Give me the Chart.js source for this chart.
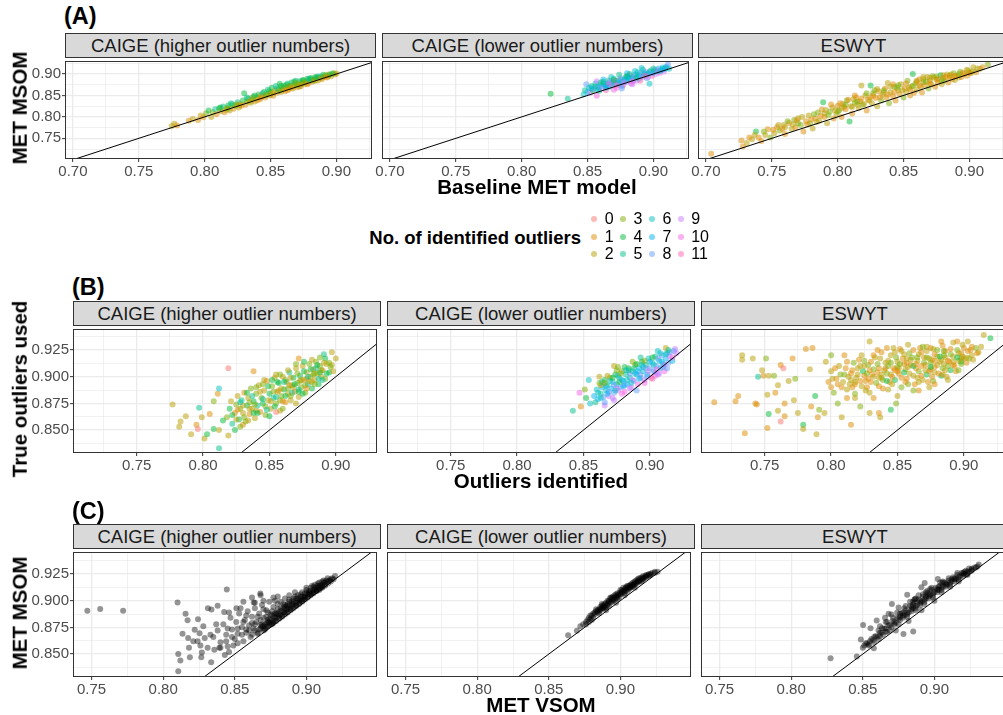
<!DOCTYPE html>
<html>
<head>
<meta charset="utf-8">
<script src="https://cdn.jsdelivr.net/npm/chart.js@4.4.0/dist/chart.umd.min.js"></script>
<style>
  body { margin: 0; width: 1003px; height: 715px; overflow: hidden; background: #fff;
         position: relative; font-family: "Liberation Sans", Arial, sans-serif; }
  canvas { position: absolute; }
  .strip { position: absolute; box-sizing: border-box; background: #d9d9d9; border: 1px solid #333;
           color: #1a1a1a; font-size: 18.5px; text-align: center; white-space: nowrap; }
  .txt { position: absolute; white-space: nowrap; line-height: 1; }
  .bold { font-weight: bold; color: #000; }
  .dot { position: absolute; width: 6px; height: 6px; border-radius: 50%; }
</style>
</head>
<body>
<script>
// ---- data: [x, y, no. of identified outliers] ----
const a1 = [[0.775,0.779,2],[0.777,0.784,2],[0.779,0.780,1],[0.788,0.791,1],[0.791,0.795,2],[0.795,0.793,1],[0.797,0.803,2],[0.799,0.799,1],[0.801,0.808,3],[0.803,0.815,4],[0.805,0.800,2],[0.806,0.811,3],[0.808,0.818,5],[0.809,0.806,1],[0.811,0.820,4],[0.812,0.813,2],[0.814,0.824,5],[0.815,0.811,1],[0.817,0.821,3],[0.818,0.827,4],[0.819,0.815,2],[0.821,0.829,4],[0.822,0.819,1],[0.823,0.826,3],[0.825,0.834,5],[0.826,0.822,2],[0.827,0.830,2],[0.829,0.838,4],[0.830,0.855,4],[0.831,0.828,1],[0.832,0.836,3],[0.833,0.843,4],[0.835,0.833,2],[0.836,0.840,1],[0.837,0.847,5],[0.838,0.836,2],[0.840,0.845,3],[0.841,0.852,4],[0.842,0.841,1],[0.843,0.849,2],[0.845,0.858,4],[0.846,0.845,1],[0.847,0.853,3],[0.848,0.864,5],[0.849,0.850,2],[0.850,0.857,3],[0.851,0.868,4],[0.852,0.849,1],[0.853,0.861,2],[0.854,0.872,5],[0.855,0.856,1],[0.856,0.864,3],[0.857,0.877,4],[0.858,0.858,2],[0.859,0.866,3],[0.860,0.872,4],[0.861,0.860,1],[0.862,0.869,2],[0.863,0.878,5],[0.864,0.865,1],[0.865,0.872,3],[0.866,0.880,4],[0.867,0.866,2],[0.868,0.875,3],[0.869,0.884,4],[0.870,0.869,1],[0.871,0.877,2],[0.872,0.883,5],[0.873,0.872,1],[0.874,0.879,3],[0.875,0.886,4],[0.876,0.876,2],[0.877,0.882,2],[0.878,0.889,4],[0.879,0.879,1],[0.880,0.885,3],[0.881,0.890,5],[0.882,0.882,2],[0.883,0.887,1],[0.885,0.892,4],[0.886,0.885,2],[0.887,0.890,3],[0.888,0.894,5],[0.889,0.888,1],[0.890,0.893,2],[0.892,0.897,3],[0.893,0.892,1],[0.894,0.896,2],[0.895,0.899,5],[0.896,0.895,2],[0.898,0.902,2],[0.899,0.899,1],[0.900,0.901,2],
  [0.812,0.822,4],[0.816,0.816,2],[0.820,0.832,5],[0.824,0.829,3],[0.828,0.826,1],[0.832,0.845,5],[0.834,0.836,2],[0.838,0.850,4],[0.840,0.839,1],[0.844,0.855,5],[0.846,0.850,3],[0.849,0.860,4],[0.852,0.855,2],[0.855,0.866,5],[0.857,0.861,3],[0.860,0.864,2],[0.862,0.875,4],[0.864,0.870,3],[0.866,0.868,1],[0.868,0.882,5],[0.870,0.874,3],[0.872,0.870,2],[0.874,0.885,4],[0.876,0.880,3],[0.878,0.876,1],[0.880,0.890,4],[0.882,0.885,3],[0.884,0.884,2],[0.886,0.894,5],[0.888,0.890,2],[0.890,0.898,4],[0.892,0.893,1],[0.894,0.899,3],[0.897,0.901,4],[0.818,0.819,3],[0.826,0.827,2],[0.836,0.844,3],[0.843,0.845,1],[0.850,0.852,2],[0.858,0.872,4],[0.863,0.862,1],[0.869,0.879,3],[0.873,0.876,2],[0.879,0.887,5],[0.884,0.893,4]];

const a2 = [[0.822,0.854,4],[0.835,0.842,5],[0.847,0.852,6],[0.848,0.862,5],[0.849,0.876,8],[0.850,0.858,7],[0.851,0.868,6],[0.852,0.856,9],[0.853,0.872,5],[0.854,0.862,4],[0.855,0.865,8],[0.856,0.878,6],[0.857,0.849,10],[0.858,0.870,7],[0.859,0.861,5],[0.860,0.875,6],[0.861,0.866,9],[0.862,0.882,4],[0.863,0.871,8],[0.864,0.862,11],[0.865,0.878,7],[0.866,0.885,5],[0.867,0.870,6],[0.868,0.880,9],[0.869,0.874,8],[0.870,0.889,6],[0.871,0.878,7],[0.872,0.868,10],[0.873,0.884,5],[0.874,0.876,8],[0.875,0.890,9],[0.876,0.881,6],[0.877,0.874,11],[0.878,0.888,7],[0.879,0.893,5],[0.880,0.882,8],[0.881,0.887,6],[0.882,0.897,9],[0.883,0.878,10],[0.884,0.891,7],[0.885,0.886,8],[0.886,0.899,6],[0.887,0.884,9],[0.888,0.894,5],[0.889,0.889,7],[0.890,0.902,8],[0.891,0.914,6],[0.892,0.893,10],[0.893,0.898,7],[0.894,0.905,9],[0.895,0.890,8],[0.896,0.901,6],[0.897,0.877,6],[0.898,0.908,5],[0.899,0.896,11],[0.900,0.904,7],[0.901,0.910,8],[0.902,0.900,9],[0.903,0.906,6],[0.904,0.913,7],[0.905,0.903,10],[0.906,0.909,8],[0.907,0.915,6],[0.908,0.906,9],[0.909,0.912,7],[0.910,0.917,8],[0.911,0.922,8],[0.912,0.912,6],[0.868,0.893,6],[0.874,0.898,5],[0.880,0.902,7],[0.886,0.907,6],[0.862,0.887,7],[0.857,0.883,9],[0.870,0.863,10],[0.876,0.866,8],[0.884,0.876,9],[0.890,0.884,11],[0.896,0.893,9],[0.864,0.873,5],[0.880,0.895,4],[0.888,0.904,6],
  [0.853,0.867,7],[0.856,0.871,5],[0.859,0.869,8],[0.862,0.877,6],[0.865,0.872,7],[0.867,0.882,8],[0.869,0.879,6],[0.871,0.884,9],[0.873,0.880,7],[0.875,0.886,6],[0.877,0.883,8],[0.879,0.888,6],[0.881,0.892,7],[0.883,0.889,6],[0.885,0.894,8],[0.887,0.892,5],[0.889,0.897,6],[0.891,0.895,8],[0.893,0.902,6],[0.895,0.899,7],[0.897,0.905,6],[0.899,0.902,8],[0.901,0.906,6],[0.903,0.909,9],[0.905,0.907,6],[0.907,0.911,7],[0.909,0.915,6],[0.866,0.876,10],[0.872,0.874,11],[0.878,0.880,9],[0.884,0.883,10],[0.894,0.896,11],[0.860,0.880,5],[0.870,0.886,4],[0.882,0.900,5],[0.892,0.910,6],[0.900,0.913,5],[0.858,0.864,6],[0.864,0.868,7],[0.876,0.872,8]];

const a3 = [[0.704,0.714,1],[0.727,0.745,1],[0.728,0.731,1],[0.731,0.739,2],[0.735,0.748,2],[0.738,0.766,4],[0.740,0.752,1],[0.742,0.744,1],[0.745,0.758,2],[0.747,0.771,1],[0.749,0.752,3],[0.752,0.762,2],[0.754,0.776,1],[0.756,0.768,3],[0.759,0.781,2],[0.760,0.760,1],[0.763,0.786,1],[0.765,0.772,2],[0.767,0.793,3],[0.768,0.775,1],[0.770,0.797,2],[0.772,0.781,3],[0.774,0.766,1],[0.776,0.790,1],[0.778,0.803,2],[0.779,0.785,3],[0.781,0.773,2],[0.783,0.797,1],[0.785,0.810,3],[0.786,0.791,2],[0.788,0.817,1],[0.789,0.834,4],[0.790,0.800,1],[0.792,0.785,2],[0.794,0.812,3],[0.796,0.822,2],[0.797,0.796,1],[0.799,0.806,2],[0.800,0.826,1],[0.801,0.815,3],[0.803,0.800,1],[0.804,0.830,2],[0.806,0.818,1],[0.807,0.838,3],[0.809,0.789,4],[0.810,0.825,2],[0.811,0.808,1],[0.813,0.833,3],[0.814,0.845,1],[0.816,0.820,2],[0.817,0.836,1],[0.818,0.873,2],[0.819,0.828,3],[0.821,0.850,2],[0.822,0.815,1],[0.823,0.840,1],[0.825,0.873,4],[0.826,0.832,2],[0.827,0.855,3],[0.829,0.844,1],[0.830,0.825,2],[0.831,0.860,1],[0.833,0.838,3],[0.834,0.851,2],[0.836,0.866,1],[0.837,0.845,1],[0.838,0.879,2],[0.839,0.832,3],[0.840,0.857,2],[0.842,0.848,1],[0.843,0.870,3],[0.844,0.838,1],[0.846,0.862,2],[0.847,0.853,1],[0.848,0.876,2],[0.850,0.845,3],[0.851,0.866,1],[0.852,0.858,2],[0.853,0.884,3],[0.855,0.850,1],[0.856,0.871,2],[0.857,0.900,4],[0.858,0.856,1],[0.859,0.878,3],[0.860,0.864,2],[0.862,0.888,1],[0.863,0.870,2],[0.864,0.857,1],[0.865,0.881,3],[0.866,0.874,1],[0.868,0.893,2],[0.869,0.866,3],[0.870,0.884,1],[0.871,0.876,2],[0.872,0.895,3],[0.874,0.870,1],[0.875,0.887,2],[0.876,0.880,1],[0.878,0.897,4],[0.879,0.876,2],[0.880,0.890,1],[0.881,0.884,3],[0.883,0.899,2],[0.884,0.880,1],[0.885,0.892,2],[0.887,0.888,1],[0.888,0.902,3],[0.889,0.886,2],[0.890,0.896,1],[0.892,0.892,2],[0.893,0.905,3],[0.894,0.893,1],[0.896,0.900,2],[0.898,0.896,1],[0.899,0.908,2],[0.900,0.903,1],[0.902,0.906,3],[0.903,0.916,2],[0.905,0.904,1],[0.908,0.912,2],[0.914,0.922,3],[0.805,0.823,1],[0.815,0.828,2],[0.825,0.846,1],[0.835,0.857,2],[0.845,0.868,3],[0.855,0.864,1],[0.865,0.888,2],[0.875,0.894,3],[0.885,0.896,1],[0.812,0.841,2],[0.828,0.862,3],[0.842,0.876,1],[0.860,0.882,1],[0.870,0.891,2],[0.880,0.897,2],[0.800,0.812,3],[0.790,0.808,2],[0.780,0.794,1],[0.770,0.785,3],[0.760,0.776,2],
  [0.733,0.752,1],[0.737,0.758,2],[0.744,0.766,3],[0.751,0.770,1],[0.755,0.781,2],[0.758,0.772,1],[0.762,0.790,3],[0.766,0.782,2],[0.769,0.792,1],[0.773,0.800,2],[0.777,0.782,1],[0.782,0.806,3],[0.784,0.788,2],[0.787,0.802,1],[0.791,0.816,2],[0.793,0.804,3],[0.795,0.829,1],[0.798,0.815,2],[0.802,0.832,1],[0.803,0.820,2],[0.806,0.828,3],[0.808,0.840,1],[0.811,0.823,2],[0.813,0.850,1],[0.815,0.835,3],[0.818,0.842,1],[0.820,0.830,2],[0.822,0.855,3],[0.824,0.838,2],[0.827,0.849,1],[0.830,0.865,2],[0.832,0.846,1],[0.835,0.862,3],[0.838,0.852,1],[0.840,0.870,2],[0.843,0.858,1],[0.846,0.874,3],[0.849,0.862,2],[0.852,0.878,1],[0.854,0.868,2],[0.857,0.872,3],[0.860,0.884,2],[0.862,0.874,1],[0.865,0.893,2],[0.867,0.882,3],[0.870,0.878,1],[0.873,0.892,2],[0.876,0.888,1],[0.879,0.885,3],[0.882,0.893,1],[0.886,0.899,2],[0.889,0.895,1],[0.892,0.900,3],[0.895,0.903,1],[0.898,0.910,2],[0.901,0.902,1],[0.906,0.913,2],[0.910,0.916,1]];

const b1 = [[0.777,0.874,2],[0.783,0.858,2],[0.782,0.853,2],[0.787,0.863,2],[0.791,0.846,2],[0.795,0.855,1],[0.796,0.851,0],[0.797,0.871,5],[0.799,0.862,2],[0.801,0.842,2],[0.803,0.846,4],[0.805,0.865,1],[0.808,0.877,3],[0.808,0.851,4],[0.811,0.884,1],[0.812,0.889,6],[0.812,0.833,5],[0.812,0.850,2],[0.815,0.859,4],[0.819,0.908,0],[0.819,0.845,2],[0.824,0.850,4],[0.830,0.855,1],[0.838,0.905,1],[0.855,0.867,0],[0.872,0.917,1],[0.897,0.911,2],[0.900,0.917,2],[0.891,0.921,5],[0.897,0.923,2],[0.892,0.917,4],[0.818,0.862,3],[0.820,0.870,4],[0.821,0.877,2],[0.822,0.856,5],[0.824,0.866,1],[0.825,0.874,3],[0.826,0.882,2],[0.827,0.860,4],[0.828,0.870,3],[0.829,0.878,5],[0.830,0.866,2],[0.831,0.885,1],[0.832,0.858,3],[0.833,0.873,4],[0.834,0.880,2],[0.835,0.865,1],[0.836,0.889,3],[0.837,0.870,2],[0.838,0.877,4],[0.839,0.861,2],[0.840,0.884,3],[0.841,0.873,5],[0.842,0.892,2],[0.843,0.867,1],[0.844,0.880,3],[0.845,0.875,4],[0.846,0.887,2],[0.847,0.864,3],[0.848,0.896,1],[0.849,0.878,2],[0.850,0.884,4],[0.851,0.870,2],[0.852,0.891,3],[0.853,0.880,5],[0.854,0.899,2],[0.855,0.875,3],[0.856,0.886,1],[0.857,0.894,4],[0.858,0.868,2],[0.859,0.882,3],[0.860,0.900,2],[0.861,0.888,4],[0.862,0.876,1],[0.863,0.895,3],[0.864,0.884,2],[0.865,0.904,5],[0.866,0.878,2],[0.867,0.892,3],[0.868,0.899,4],[0.869,0.886,1],[0.870,0.908,2],[0.871,0.894,3],[0.872,0.881,2],[0.873,0.901,4],[0.874,0.890,3],[0.875,0.910,2],[0.876,0.897,1],[0.877,0.885,3],[0.878,0.904,2],[0.879,0.893,5],[0.880,0.912,3],[0.881,0.900,2],[0.882,0.889,4],[0.883,0.907,1],[0.884,0.897,2],[0.885,0.914,3],[0.886,0.903,2],[0.887,0.893,4],[0.888,0.910,3],[0.889,0.900,2],[0.890,0.906,1],[0.892,0.898,3],[0.893,0.912,2],[0.895,0.904,4],[0.896,0.909,3],[0.898,0.905,2],[0.845,0.893,3],[0.850,0.863,4],[0.855,0.902,2],[0.860,0.870,3],[0.865,0.892,1],[0.870,0.875,2],[0.875,0.884,4],[0.880,0.896,2],[0.885,0.908,5],[0.840,0.868,2],[0.835,0.876,3],[0.830,0.873,2],[0.826,0.869,1],[0.857,0.887,2],[0.862,0.897,3],[0.868,0.890,2],[0.873,0.896,3],[0.878,0.898,2],[0.883,0.902,3],[0.888,0.904,4],
  [0.822,0.864,4],[0.825,0.860,2],[0.828,0.876,5],[0.831,0.862,3],[0.833,0.885,4],[0.835,0.870,2],[0.837,0.882,5],[0.839,0.874,3],[0.841,0.866,4],[0.843,0.886,2],[0.845,0.879,5],[0.847,0.872,3],[0.849,0.891,4],[0.851,0.877,2],[0.853,0.886,3],[0.855,0.881,5],[0.856,0.895,4],[0.858,0.878,3],[0.859,0.889,2],[0.861,0.895,5],[0.862,0.882,4],[0.864,0.889,3],[0.866,0.899,2],[0.867,0.885,5],[0.869,0.893,4],[0.871,0.903,3],[0.872,0.888,5],[0.874,0.897,2],[0.876,0.905,4],[0.877,0.892,3],[0.879,0.900,5],[0.881,0.907,4],[0.882,0.895,2],[0.884,0.903,3],[0.886,0.911,4],[0.887,0.898,5],[0.889,0.906,3],[0.891,0.913,2],[0.893,0.903,4],[0.895,0.913,3],[0.840,0.890,3],[0.846,0.897,2],[0.852,0.897,4],[0.858,0.902,3],[0.864,0.906,2],[0.870,0.912,3],[0.876,0.914,4],[0.882,0.916,2],[0.888,0.918,3],[0.848,0.869,5],[0.854,0.872,4],[0.860,0.877,1],[0.866,0.882,3],[0.872,0.886,4],[0.878,0.889,1],[0.884,0.893,3],[0.890,0.897,5],[0.828,0.853,3],[0.834,0.859,2],[0.838,0.866,4]];

const b2 = [[0.842,0.868,5],[0.848,0.872,1],[0.847,0.885,10],[0.851,0.888,3],[0.855,0.875,6],[0.859,0.876,5],[0.854,0.897,6],[0.862,0.900,2],[0.873,0.910,2],[0.876,0.909,3],[0.912,0.927,2],[0.919,0.926,9],[0.906,0.924,6],[0.904,0.901,10],[0.873,0.878,9],[0.866,0.873,9],[0.858,0.882,7],[0.852,0.880,4],[0.860,0.888,6],[0.861,0.879,7],[0.862,0.894,3],[0.863,0.884,5],[0.864,0.890,7],[0.865,0.881,8],[0.866,0.897,4],[0.867,0.887,6],[0.868,0.892,5],[0.869,0.882,9],[0.870,0.899,3],[0.871,0.889,7],[0.872,0.895,6],[0.873,0.885,8],[0.874,0.902,4],[0.875,0.893,6],[0.876,0.887,9],[0.877,0.899,5],[0.878,0.890,8],[0.879,0.905,3],[0.880,0.896,6],[0.881,0.886,10],[0.882,0.902,5],[0.883,0.893,7],[0.884,0.908,4],[0.885,0.899,6],[0.886,0.890,9],[0.887,0.905,5],[0.888,0.896,8],[0.889,0.911,3],[0.890,0.902,6],[0.891,0.893,10],[0.892,0.908,7],[0.893,0.899,8],[0.894,0.914,4],[0.895,0.905,6],[0.896,0.897,9],[0.897,0.911,5],[0.898,0.902,7],[0.899,0.917,6],[0.900,0.908,8],[0.901,0.899,11],[0.902,0.913,6],[0.903,0.905,7],[0.904,0.919,5],[0.905,0.910,8],[0.906,0.902,9],[0.907,0.915,6],[0.908,0.908,7],[0.909,0.920,8],[0.910,0.912,6],[0.911,0.905,10],[0.912,0.917,7],[0.913,0.922,6],[0.914,0.913,8],[0.915,0.919,9],[0.917,0.915,7],[0.918,0.924,8],[0.920,0.922,9],[0.868,0.901,2],[0.875,0.906,3],[0.881,0.909,4],[0.887,0.914,3],[0.893,0.918,5],[0.866,0.876,8],[0.872,0.880,9],[0.879,0.884,10],[0.885,0.889,9],[0.890,0.887,8],[0.896,0.894,10],[0.902,0.898,11],[0.907,0.903,9],[0.913,0.908,8],[0.863,0.892,2],[0.877,0.895,4],[0.883,0.897,6],[0.889,0.903,7],[0.895,0.909,6],
  [0.861,0.885,6],[0.864,0.895,5],[0.867,0.891,7],[0.870,0.896,6],[0.873,0.892,8],[0.876,0.901,6],[0.879,0.897,7],[0.882,0.906,6],[0.885,0.903,8],[0.888,0.908,5],[0.891,0.905,7],[0.894,0.911,6],[0.897,0.908,8],[0.900,0.914,7],[0.903,0.911,6],[0.906,0.917,8],[0.909,0.914,7],[0.912,0.921,6],[0.915,0.923,8],[0.869,0.886,8],[0.875,0.889,9],[0.881,0.892,8],[0.887,0.897,9],[0.893,0.902,8],[0.899,0.905,9],[0.905,0.907,10],[0.911,0.911,9],[0.917,0.918,10],[0.866,0.894,3],[0.872,0.899,4],[0.878,0.903,3],[0.884,0.906,5],[0.890,0.912,4],[0.896,0.915,3],[0.902,0.918,4],[0.908,0.922,6],[0.914,0.925,5],[0.863,0.880,6],[0.868,0.884,7],[0.874,0.887,6],[0.880,0.891,7],[0.886,0.894,6],[0.892,0.898,7],[0.898,0.900,8],[0.904,0.904,9],[0.910,0.909,8]];

const b3 = [[0.712,0.876,1],[0.728,0.877,1],[0.730,0.882,1],[0.733,0.920,2],[0.733,0.916,2],[0.735,0.847,1],[0.741,0.917,2],[0.743,0.875,1],[0.744,0.874,1],[0.745,0.900,5],[0.748,0.906,2],[0.749,0.901,1],[0.751,0.917,3],[0.752,0.883,2],[0.752,0.852,1],[0.753,0.865,4],[0.753,0.901,2],[0.757,0.901,3],[0.758,0.885,1],[0.760,0.868,2],[0.762,0.911,1],[0.764,0.908,0],[0.760,0.892,2],[0.762,0.858,0],[0.765,0.863,1],[0.765,0.875,1],[0.768,0.896,2],[0.771,0.917,1],[0.773,0.898,3],[0.772,0.878,2],[0.775,0.866,2],[0.779,0.855,4],[0.779,0.851,2],[0.781,0.926,1],[0.786,0.927,1],[0.784,0.907,2],[0.785,0.872,1],[0.789,0.846,2],[0.790,0.862,1],[0.791,0.869,3],[0.788,0.882,4],[0.796,0.914,2],[0.800,0.920,3],[0.795,0.866,2],[0.800,0.890,1],[0.829,0.933,2],[0.835,0.925,1],[0.842,0.927,1],[0.847,0.927,2],[0.852,0.926,1],[0.858,0.930,2],[0.867,0.927,1],[0.872,0.928,2],[0.875,0.927,1],[0.883,0.933,1],[0.892,0.932,2],[0.895,0.933,1],[0.903,0.933,2],[0.915,0.939,2],[0.920,0.936,4],[0.911,0.923,2],[0.904,0.917,3],[0.902,0.913,1],[0.845,0.869,4],[0.837,0.862,2],[0.849,0.875,3],[0.866,0.887,1],[0.874,0.890,2],[0.883,0.901,4],[0.898,0.914,4],[0.815,0.855,1],[0.829,0.866,2],[0.822,0.872,3],[0.836,0.866,1],[0.808,0.862,2],[0.805,0.875,3],[0.812,0.880,1],[0.798,0.895,1],[0.800,0.905,2],[0.802,0.885,3],[0.804,0.898,1],[0.806,0.910,2],[0.808,0.890,1],[0.810,0.902,3],[0.812,0.914,1],[0.814,0.893,2],[0.816,0.906,1],[0.818,0.884,3],[0.819,0.899,2],[0.821,0.916,1],[0.823,0.891,2],[0.824,0.905,4],[0.826,0.896,1],[0.828,0.911,3],[0.829,0.885,2],[0.831,0.902,1],[0.833,0.918,2],[0.834,0.894,3],[0.836,0.908,1],[0.838,0.899,2],[0.839,0.889,1],[0.841,0.913,2],[0.842,0.903,3],[0.844,0.895,1],[0.845,0.920,2],[0.847,0.908,1],[0.848,0.897,4],[0.850,0.914,2],[0.851,0.903,1],[0.853,0.890,3],[0.854,0.917,1],[0.856,0.907,2],[0.857,0.898,1],[0.859,0.922,3],[0.860,0.911,1],[0.862,0.901,2],[0.863,0.893,1],[0.865,0.915,2],[0.866,0.905,3],[0.868,0.923,1],[0.869,0.897,2],[0.871,0.911,1],[0.872,0.902,4],[0.874,0.917,2],[0.875,0.907,1],[0.877,0.896,3],[0.878,0.921,1],[0.880,0.911,2],[0.881,0.903,1],[0.883,0.916,2],[0.884,0.908,3],[0.886,0.924,1],[0.887,0.900,2],[0.889,0.914,1],[0.890,0.906,4],[0.892,0.919,2],[0.893,0.910,1],[0.895,0.925,3],[0.896,0.915,2],[0.898,0.922,1],[0.900,0.917,2],[0.903,0.924,1],[0.906,0.920,2],[0.909,0.927,3],[0.815,0.897,2],[0.825,0.901,1],[0.835,0.912,3],[0.845,0.902,2],[0.855,0.912,1],[0.865,0.899,2],[0.875,0.913,3],[0.885,0.912,2],[0.805,0.893,1],[0.820,0.908,2],[0.830,0.895,1],[0.840,0.906,2],[0.850,0.909,3],[0.860,0.916,2],[0.870,0.918,1],[0.880,0.919,2],[0.890,0.921,3],[0.812,0.888,2],[0.827,0.890,1],[0.843,0.888,2],[0.858,0.893,3],[0.873,0.895,1],[0.888,0.897,2],[0.832,0.920,1],[0.848,0.923,2],[0.862,0.925,1],[0.877,0.926,2],
  [0.801,0.898,2],[0.803,0.908,1],[0.807,0.902,3],[0.809,0.895,2],[0.811,0.908,1],[0.813,0.900,2],[0.817,0.913,3],[0.818,0.893,1],[0.820,0.902,2],[0.822,0.896,1],[0.825,0.910,2],[0.827,0.903,3],[0.830,0.914,1],[0.832,0.900,2],[0.835,0.904,1],[0.837,0.917,2],[0.839,0.897,3],[0.841,0.908,1],[0.843,0.915,2],[0.846,0.900,1],[0.849,0.918,3],[0.851,0.908,2],[0.853,0.899,1],[0.855,0.921,2],[0.857,0.913,1],[0.859,0.903,2],[0.861,0.918,3],[0.864,0.908,1],[0.866,0.921,2],[0.868,0.901,1],[0.870,0.913,3],[0.872,0.924,2],[0.874,0.905,1],[0.876,0.916,2],[0.878,0.909,1],[0.880,0.925,3],[0.882,0.914,2],[0.884,0.902,1],[0.886,0.918,2],[0.888,0.910,3],[0.890,0.926,1],[0.892,0.914,2],[0.894,0.905,1],[0.896,0.922,2],[0.898,0.912,3],[0.900,0.927,1],[0.902,0.918,2],[0.905,0.925,1],[0.907,0.916,2],[0.910,0.922,1],[0.913,0.928,2],[0.816,0.890,1],[0.826,0.887,2],[0.836,0.891,1],[0.846,0.893,2],[0.856,0.895,1],[0.866,0.895,2],[0.876,0.900,1],[0.886,0.906,2],[0.896,0.906,3],[0.823,0.920,2],[0.838,0.923,1],[0.853,0.924,2],[0.869,0.928,3],[0.884,0.929,1],[0.899,0.930,2],[0.810,0.920,1],[0.818,0.880,2],[0.832,0.880,1],[0.850,0.882,2],[0.862,0.887,3],[0.878,0.893,1],[0.842,0.896,4],[0.862,0.910,4],[0.882,0.919,4],[0.872,0.918,3],[0.852,0.912,3],[0.832,0.907,3],
  [0.815,0.903,1],[0.822,0.910,2],[0.829,0.906,1],[0.836,0.899,2],[0.843,0.910,3],[0.850,0.905,1],[0.857,0.917,2],[0.864,0.912,1],[0.871,0.906,2],[0.878,0.915,1],[0.885,0.920,3],[0.892,0.911,1],[0.899,0.919,2],[0.906,0.928,1],[0.818,0.895,2],[0.828,0.898,1],[0.838,0.902,2],[0.848,0.906,1],[0.858,0.909,2],[0.868,0.910,1],[0.878,0.904,2],[0.888,0.915,1],[0.898,0.917,2],[0.845,0.913,3],[0.865,0.918,3],[0.885,0.924,3],[0.825,0.915,3],[0.855,0.904,4],[0.875,0.909,4],[0.895,0.918,4]];

// ---- data: [MET VSOM, MET MSOM] ----
const c1 = [[0.747,0.8905],[0.756,0.8923],[0.772,0.8905],[0.810,0.8984],[0.8105,0.850],[0.812,0.844],[0.8105,0.834],[0.8156,0.8878],[0.817,0.8817],[0.8135,0.869],[0.8174,0.8651],[0.818,0.856],[0.8243,0.8826],[0.822,0.8727],[0.8186,0.847],[0.8266,0.847],[0.827,0.8515],[0.8312,0.8929],[0.8337,0.8917],[0.838,0.8953],[0.8444,0.9105],[0.8335,0.8424],[0.8392,0.856],[0.8426,0.8893],[0.8511,0.8929],[0.862,0.903],[0.8678,0.9068],[0.8632,0.8984],[0.8357,0.854],[0.831,0.856],[0.824,0.862],[0.8254,0.8696],[0.829,0.8651],[0.835,0.866],[0.838,0.872],[0.840,0.861],[0.842,0.878],[0.844,0.868],[0.845,0.857],[0.847,0.884],[0.848,0.873],[0.850,0.864],[0.851,0.880],[0.852,0.869],[0.853,0.888],[0.855,0.875],[0.856,0.862],[0.857,0.882],[0.858,0.870],[0.859,0.890],[0.860,0.877],[0.861,0.866],[0.862,0.885],[0.863,0.874],[0.864,0.893],[0.865,0.880],[0.866,0.870],[0.867,0.888],[0.868,0.877],[0.869,0.896],[0.870,0.884],[0.871,0.874],[0.872,0.891],[0.873,0.880],[0.874,0.899],[0.875,0.887],[0.876,0.878],[0.877,0.894],[0.866,0.869],[0.868,0.874],[0.870,0.872],[0.871,0.878],[0.872,0.875],[0.874,0.877],[0.875,0.882],[0.876,0.879],[0.877,0.885],[0.878,0.881],[0.879,0.884],[0.880,0.888],[0.881,0.884],[0.882,0.890],[0.883,0.886],[0.884,0.889],[0.885,0.893],[0.886,0.889],[0.887,0.892],[0.888,0.896],[0.889,0.892],[0.890,0.895],[0.891,0.899],[0.892,0.895],[0.893,0.898],[0.894,0.902],[0.895,0.898],[0.896,0.901],[0.897,0.904],[0.898,0.901],[0.899,0.904],[0.900,0.907],[0.901,0.904],[0.902,0.906],[0.903,0.909],[0.904,0.907],[0.905,0.910],[0.906,0.912],[0.907,0.909],[0.908,0.912],[0.909,0.914],[0.910,0.912],[0.911,0.915],[0.912,0.917],[0.913,0.915],[0.915,0.918],[0.917,0.920],[0.920,0.923],[0.9148,0.921],[0.869,0.878],[0.873,0.882],[0.876,0.886],[0.879,0.889],[0.882,0.893],[0.885,0.896],[0.888,0.899],[0.891,0.902],[0.894,0.905],[0.897,0.908],[0.900,0.910],[0.903,0.912],[0.906,0.915],[0.909,0.917],[0.870,0.876],[0.874,0.880],[0.878,0.884],[0.882,0.887],[0.886,0.892],[0.890,0.897],[0.894,0.900],[0.898,0.903],[0.902,0.908],[0.906,0.910],[0.910,0.914],[0.880,0.897],[0.885,0.902],[0.878,0.900],[0.888,0.905],[0.892,0.908],[0.870,0.892],[0.873,0.889],[0.882,0.899],[0.877,0.903],[0.887,0.897],[0.866,0.885],[0.862,0.879],[0.858,0.873],[0.855,0.868],[0.852,0.860],[0.849,0.858],[0.846,0.852],[0.843,0.849],
  [0.862,0.868],[0.864,0.872],[0.867,0.873],[0.869,0.876],[0.872,0.879],[0.874,0.883],[0.877,0.881],[0.879,0.887],[0.881,0.886],[0.883,0.891],[0.885,0.889],[0.887,0.894],[0.889,0.893],[0.891,0.897],[0.893,0.896],[0.895,0.900],[0.897,0.900],[0.899,0.903],[0.901,0.906],[0.903,0.906],[0.905,0.908],[0.907,0.911],[0.909,0.911],[0.911,0.913],[0.913,0.917],[0.916,0.919],[0.918,0.921],[0.880,0.892],[0.884,0.897],[0.888,0.901],[0.892,0.904],[0.896,0.906],[0.900,0.912],[0.904,0.914],[0.908,0.916],[0.912,0.919],[0.872,0.885],[0.876,0.890],[0.868,0.882],[0.864,0.878],[0.860,0.872],[0.856,0.880],[0.852,0.874],[0.848,0.866],[0.844,0.862],[0.840,0.856],[0.837,0.878],[0.833,0.868],[0.828,0.876],[0.826,0.858],[0.821,0.862],[0.864,0.898],[0.870,0.900],[0.858,0.886],[0.854,0.893],[0.846,0.889],[0.868,0.905],[0.856,0.899],[0.845,0.874],[0.880,0.904],
  [0.871,0.873],[0.873,0.876],[0.875,0.878],[0.877,0.879],[0.879,0.881],[0.881,0.883],[0.883,0.885],[0.885,0.887],[0.887,0.889],[0.889,0.891],[0.891,0.893],[0.893,0.895],[0.895,0.897],[0.897,0.899],[0.899,0.901],[0.901,0.903],[0.903,0.905],[0.905,0.907],[0.907,0.909],[0.909,0.910],[0.911,0.912],[0.913,0.914],[0.915,0.916],[0.917,0.918],[0.919,0.920],[0.878,0.888],[0.886,0.895],[0.893,0.902],[0.899,0.907],[0.905,0.913],[0.911,0.918],[0.884,0.894],[0.890,0.900],[0.896,0.904],[0.902,0.909],[0.908,0.914],[0.914,0.919]];

const c2 = [[0.8635,0.8675],[0.8696,0.8718],[0.872,0.876],[0.874,0.878],[0.876,0.880],[0.877,0.882],[0.878,0.884],[0.879,0.883],[0.880,0.886],[0.881,0.888],[0.882,0.887],[0.883,0.890],[0.884,0.889],[0.885,0.892],[0.886,0.894],[0.887,0.893],[0.888,0.896],[0.889,0.895],[0.890,0.898],[0.891,0.900],[0.892,0.899],[0.893,0.902],[0.894,0.901],[0.895,0.904],[0.896,0.903],[0.897,0.906],[0.898,0.907],[0.899,0.906],[0.900,0.908],[0.901,0.910],[0.902,0.909],[0.903,0.911],[0.904,0.913],[0.905,0.912],[0.906,0.914],[0.907,0.915],[0.908,0.916],[0.909,0.917],[0.910,0.918],[0.911,0.919],[0.912,0.920],[0.913,0.921],[0.914,0.921],[0.915,0.922],[0.916,0.923],[0.918,0.924],[0.920,0.925],[0.922,0.926],[0.924,0.927],[0.926,0.927],[0.884,0.891],[0.887,0.895],[0.890,0.894],[0.893,0.898],[0.896,0.905],[0.899,0.903],[0.902,0.912],[0.905,0.909],[0.908,0.913],[0.911,0.916],[0.914,0.918],[0.917,0.922],[0.920,0.923],[0.885,0.888],[0.889,0.897],[0.892,0.895],[0.895,0.900],[0.898,0.904],[0.901,0.907],[0.904,0.910],[0.907,0.912],[0.910,0.915],[0.913,0.918],[0.880,0.882],[0.882,0.889],[0.878,0.880],
  [0.876,0.878],[0.879,0.886],[0.881,0.884],[0.883,0.892],[0.886,0.891],[0.888,0.893],[0.891,0.896],[0.893,0.903],[0.896,0.901],[0.898,0.902],[0.900,0.910],[0.903,0.907],[0.905,0.914],[0.907,0.914],[0.909,0.915],[0.912,0.918],[0.915,0.920],[0.918,0.922],[0.921,0.925],[0.924,0.926],[0.887,0.897],[0.894,0.903],[0.906,0.911],[0.890,0.891],[0.897,0.898],[0.903,0.905],[0.910,0.912],[0.916,0.920],
  [0.885,0.890],[0.888,0.894],[0.891,0.897],[0.894,0.899],[0.897,0.903],[0.900,0.906],[0.903,0.909],[0.906,0.912],[0.909,0.914],[0.912,0.917],[0.915,0.919],[0.918,0.923],[0.921,0.924],[0.886,0.892],[0.889,0.893],[0.892,0.900],[0.895,0.902],[0.898,0.905],[0.901,0.908],[0.904,0.912],[0.907,0.913],[0.910,0.916],[0.913,0.919],[0.916,0.921],[0.919,0.924]];

const c3 = [[0.8275,0.846],[0.8458,0.8476],[0.8486,0.8636],[0.8502,0.8772],[0.8554,0.8742],[0.8543,0.859],[0.8577,0.8554],[0.8635,0.8742],[0.8703,0.8969],[0.868,0.8878],[0.8784,0.8687],[0.8852,0.8712],[0.8864,0.9014],[0.8909,0.9126],[0.8932,0.9165],[0.9024,0.9202],[0.9054,0.9171],[0.931,0.934],[0.9242,0.9302],[0.875,0.8935],[0.8655,0.884],[0.881,0.9055],[0.8597,0.8815],[0.850,0.856],[0.852,0.860],[0.854,0.858],[0.856,0.864],[0.858,0.861],[0.859,0.867],[0.861,0.864],[0.862,0.870],[0.864,0.868],[0.865,0.874],[0.867,0.871],[0.868,0.877],[0.870,0.875],[0.871,0.881],[0.873,0.879],[0.874,0.884],[0.876,0.882],[0.877,0.888],[0.879,0.886],[0.880,0.891],[0.882,0.889],[0.883,0.895],[0.885,0.893],[0.886,0.898],[0.888,0.896],[0.889,0.901],[0.891,0.899],[0.892,0.904],[0.894,0.902],[0.895,0.907],[0.897,0.905],[0.898,0.910],[0.900,0.908],[0.901,0.912],[0.903,0.910],[0.904,0.914],[0.906,0.913],[0.907,0.917],[0.909,0.915],[0.910,0.919],[0.912,0.918],[0.913,0.922],[0.915,0.920],[0.916,0.924],[0.918,0.923],[0.919,0.926],[0.921,0.925],[0.922,0.928],[0.924,0.927],[0.926,0.930],[0.928,0.931],[0.930,0.932],[0.866,0.874],[0.872,0.880],[0.878,0.886],[0.884,0.892],[0.890,0.898],[0.896,0.904],[0.902,0.910],[0.908,0.915],[0.914,0.920],[0.920,0.925],[0.869,0.872],[0.875,0.878],[0.881,0.885],[0.887,0.891],[0.893,0.897],[0.899,0.903],[0.905,0.908],[0.911,0.913],[0.917,0.918],[0.923,0.924],[0.863,0.870],[0.860,0.866],[0.857,0.863],[0.853,0.860],[0.876,0.888],[0.883,0.899],[0.889,0.905],[0.895,0.909],[0.871,0.884],[0.866,0.880],[0.862,0.876],[0.880,0.895],[0.886,0.901],[0.892,0.906],[0.898,0.912],[0.904,0.917],[0.910,0.921],[0.916,0.926],
  [0.851,0.858],[0.855,0.862],[0.858,0.866],[0.862,0.867],[0.866,0.871],[0.869,0.877],[0.872,0.878],[0.875,0.883],[0.878,0.884],[0.881,0.889],[0.884,0.890],[0.887,0.895],[0.890,0.896],[0.893,0.901],[0.896,0.902],[0.899,0.907],[0.902,0.908],[0.905,0.912],[0.908,0.913],[0.911,0.917],[0.914,0.918],[0.917,0.922],[0.920,0.923],[0.923,0.927],[0.926,0.928],[0.929,0.931],[0.870,0.887],[0.879,0.893],[0.887,0.902],[0.897,0.911],[0.906,0.918],[0.873,0.872],[0.882,0.881],[0.891,0.891],[0.900,0.900],[0.861,0.872],[0.867,0.880],[0.874,0.889],[0.885,0.899],[0.894,0.908],
  [0.878,0.889],[0.881,0.887],[0.884,0.894],[0.887,0.893],[0.890,0.900],[0.893,0.899],[0.896,0.906],[0.899,0.905],[0.902,0.911],[0.905,0.910],[0.908,0.916],[0.911,0.915],[0.914,0.921],[0.917,0.920],[0.920,0.926],[0.923,0.925],[0.926,0.929],[0.876,0.885],[0.885,0.896],[0.894,0.904],[0.903,0.913],[0.912,0.920],[0.921,0.927]];

const facets = ["CAIGE (higher outlier numbers)", "CAIGE (lower outlier numbers)", "ESWYT"];
const outlierLevels = ["0","1","2","3","4","5","6","7","8","9","10","11"];
const hue = ["#F8766D","#DE8C00","#B79F00","#7CAE00","#00BA38","#00C08B","#00BFC4","#00B4F0","#619CFF","#C77CFF","#F564E3","#FF64B0"];

// ---- layout ----
const FONT = "'Liberation Sans', Arial, sans-serif";
Chart.defaults.font.family = FONT;

const rows = [
  { tag: "(A)", tagY: 17, top: 57, h: 102, w: 311, lefts: [65, 382, 698],
    xr: [0.694, 0.927], yr: [0.7018, 0.9303], yStep: 0.025, yMajor: 0.05, yDec: 2,
    ytitle: "MET MSOM", xtitle: "Baseline MET model", xtitleY: 187, sets: [a1, a2, a3], colour: true },
  { tag: "(B)", tagY: 288, top: 325, h: 128, w: 308, lefts: [73, 387, 701],
    xr: [0.702, 0.931], yr: [0.8285, 0.9447], yStep: 0.0125, yMajor: 0.025, yDec: 3,
    ytitle: "True outliers used", xtitle: "Outliers identified", xtitleY: 481, sets: [b1, b2, b3], colour: true },
  { tag: "(C)", tagY: 512, top: 548, h: 129, w: 308, lefts: [73, 387, 701],
    xr: [0.737, 0.9493], yr: [0.8285, 0.9456], yStep: 0.0125, yMajor: 0.025, yDec: 3,
    ytitle: "MET MSOM", xtitle: "MET VSOM", xtitleY: 705, sets: [c1, c2, c3], colour: false }
];

function isMajor(v, major) {
  return Math.abs(v / major - Math.round(v / major)) < 1e-6;
}

function addText(text, cls, x, y, anchor, size) {
  const d = document.createElement("div");
  d.className = "txt " + cls;
  d.textContent = text;
  d.style.left = x + "px";
  d.style.top = y + "px";
  d.style.fontSize = size + "px";
  const tx = anchor === "left" ? "0" : anchor === "right" ? "-100%" : "-50%";
  d.style.transform = "translate(" + tx + ",-50%)";
  document.body.appendChild(d);
  return d;
}

const panelBorder = {
  id: "panelBorder",
  afterDraw(chart) {
    const a = chart.chartArea, ctx = chart.ctx;
    ctx.save();
    ctx.strokeStyle = "#333";
    ctx.lineWidth = 1;
    ctx.strokeRect(a.left + 0.5, a.top + 0.5, a.right - a.left - 1, a.bottom - a.top - 1);
    ctx.restore();
  }
};

function makePanel(row, col) {
  const L = col === 0 ? 50 : 22, B = 30;
  const cv = document.createElement("canvas");
  cv.width = row.w + L;
  cv.height = row.h + B;
  cv.style.left = (row.lefts[col] - L) + "px";
  cv.style.top = row.top + "px";
  document.body.appendChild(cv);

  const pts = row.sets[col].map(p => ({ x: p[0], y: p[1], n: p[2] }));
  const lo = Math.min(row.xr[0], row.yr[0]), hi = Math.max(row.xr[1], row.yr[1]);

  new Chart(cv, {
    type: "scatter",
    data: {
      datasets: [
        { type: "line", data: [{ x: lo, y: lo }, { x: hi, y: hi }], borderColor: "#000",
          borderWidth: 1, pointRadius: 0, fill: false, order: 0 },
        { data: pts, pointRadius: 3, pointBorderWidth: 0, order: 1,
          pointBackgroundColor: ctx => row.colour ? hue[ctx.raw.n] + "80" : "rgba(0,0,0,0.42)" }
      ]
    },
    options: {
      responsive: false, animation: false, events: [],
      layout: { padding: 0 },
      plugins: { legend: { display: false }, tooltip: { enabled: false } },
      scales: {
        x: {
          type: "linear", min: row.xr[0], max: row.xr[1],
          afterFit: s => { s.height = B; s.paddingLeft = 0; s.paddingRight = 0; },
          border: { display: false },
          grid: {
            color: "#ebebeb",
            lineWidth: c => isMajor(c.tick.value, 0.05) ? 1.3 : 0.7,
            drawTicks: true, tickLength: 3, tickWidth: 1,
            tickColor: c => isMajor(c.tick.value, 0.05) ? "#333" : "rgba(0,0,0,0)"
          },
          ticks: {
            stepSize: 0.025, includeBounds: false, autoSkip: false, maxRotation: 0, padding: 1,
            color: "#4d4d4d", font: { size: 15 },
            callback: v => isMajor(v, 0.05) ? v.toFixed(2) : ""
          }
        },
        y: {
          type: "linear", min: row.yr[0], max: row.yr[1],
          afterFit: s => { s.width = L; s.paddingTop = 0; s.paddingBottom = 0; },
          border: { display: false },
          grid: {
            color: "#ebebeb",
            lineWidth: c => isMajor(c.tick.value, row.yMajor) ? 1.3 : 0.7,
            drawTicks: col === 0, tickLength: 3, tickWidth: 1,
            tickColor: c => isMajor(c.tick.value, row.yMajor) ? "#333" : "rgba(0,0,0,0)"
          },
          ticks: {
            display: col === 0, stepSize: row.yStep, includeBounds: false, autoSkip: false, padding: 1,
            color: "#4d4d4d", font: { size: 15 },
            callback: v => isMajor(v, row.yMajor) ? v.toFixed(row.yDec) : ""
          }
        }
      }
    },
    plugins: [panelBorder]
  });

  // facet strip
  const s = document.createElement("div");
  s.className = "strip";
  s.textContent = facets[col];
  s.style.left = row.lefts[col] + "px";
  s.style.top = (row.top - 24) + "px";
  s.style.width = row.w + "px";
  s.style.height = "25px";
  s.style.lineHeight = "23px";
  document.body.appendChild(s);
}

rows.forEach(row => {
  for (let c = 0; c < 3; c++) makePanel(row, c);
  addText(row.tag, "bold", row.lefts[0] - 1, row.tagY, "left", 23.5);
  const xc = (row.lefts[0] + row.lefts[2] + row.w) / 2;
  addText(row.xtitle, "bold", xc, row.xtitleY, "center", 20.5);
  const t = addText(row.ytitle, "bold", 19.5, row.top + row.h / 2, "center", 20.5);
  t.style.transform = "translate(-50%,-50%) rotate(-90deg)";
});

// legend
addText("No. of identified outliers", "bold", 581, 238, "right", 18.5);
outlierLevels.forEach((lab, i) => {
  const col = Math.floor(i / 3), r = i % 3;
  const cx = 594.3 + col * 28.8, cy = 219.3 + r * 17.5;
  const d = document.createElement("div");
  d.className = "dot";
  d.style.left = (cx - 3) + "px";
  d.style.top = (cy - 3) + "px";
  d.style.background = hue[i] + "80";
  document.body.appendChild(d);
  addText(lab, "", cx + 10.5, cy, "left", 16).style.color = "#000";
});
</script>
</body>
</html>
